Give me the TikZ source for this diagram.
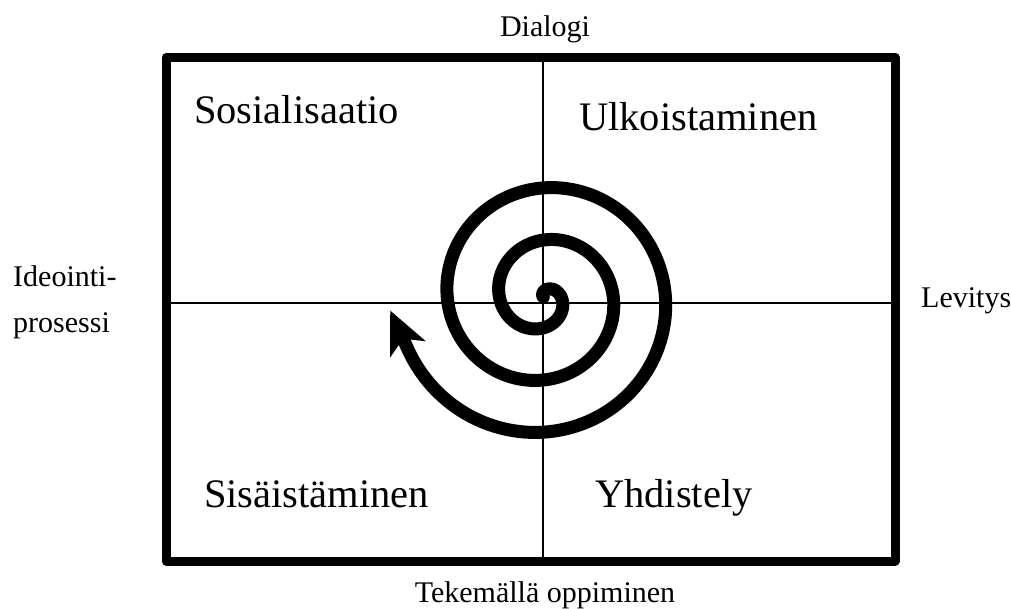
\documentclass[tikz,border=0pt]{standalone}
\usepackage{fontspec}
\setmainfont{Liberation Serif}
\usetikzlibrary{arrows.meta}
\tikzset{
  frame/.style={line width=9pt, line join=round},
  axis/.style={line width=2pt},
  spiral/.style={line width=13pt, line cap=round, -{Stealth[length=42pt,width=38pt,inset=11pt]}},
  bigtext/.style={inner sep=0pt, font=\fontsize{40.5}{42}\selectfont},
  smalltext/.style={inner sep=0pt, font=\fontsize{30}{32}\selectfont}
}
\begin{document}
\begin{tikzpicture}[x=1pt,y=-1pt]
\useasboundingbox (0,0) rectangle (1011,608);
\coordinate (tl) at (166,57);
\coordinate (br) at (895,561);
\coordinate (top) at (543,57);
\coordinate (bot) at (543,561);
\coordinate (lft) at (166,303);
\coordinate (rgt) at (895,303);
\draw[axis] (top) -- (bot);
\draw[axis] (lft) -- (rgt);
\draw[frame] (tl) rectangle (br);
\coordinate (tip) at (390.2,310.5);
\draw[spiral] plot[domain=-0.58:16.9, samples=400, variable=\t]
  ({543.3 + (4.8+8.3*\t)*sin(\t r)}, {297 - (4.8+8.3*\t)*cos(\t r)}) -- (tip);
\node[bigtext, anchor=base west] (sos) at (194,123) {Sosialisaatio};
\node[bigtext, anchor=base west] (ulk) at (579,130) {Ulkoistaminen};
\node[bigtext, anchor=base west] (sis) at (204,507) {Sisäistäminen};
\node[bigtext, anchor=base west] (yhd) at (595,507) {Yhdistely};
\node[smalltext, anchor=base] (dia) at (545,36) {Dialogi};
\node[smalltext, anchor=base] (tek) at (545,602) {Tekemällä oppiminen};
\node[smalltext, anchor=base west] (lev) at (921,307) {Levitys};
\node[smalltext, anchor=base west] (ide) at (13,286) {Ideointi-};
\node[smalltext, anchor=base west] (pro) at (13,332) {prosessi};
\end{tikzpicture}
\end{document}
